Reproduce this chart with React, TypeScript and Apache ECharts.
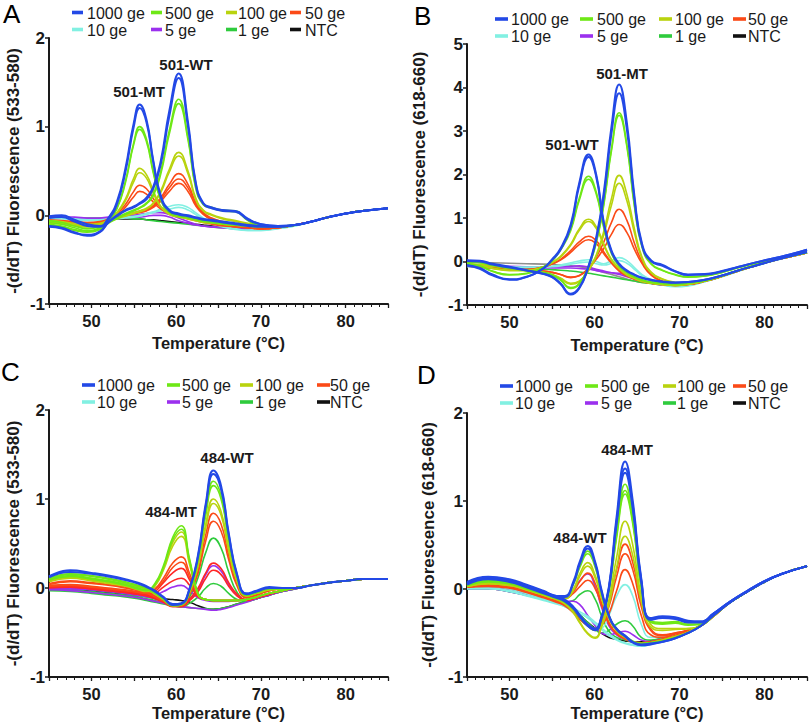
import React, { useEffect, useRef } from "react";
import * as echarts from "echarts";

// ---------- shared labels / colours ----------
const concLabels = ["1000 ge", "500 ge", "100 ge", "50 ge", "10 ge", "5 ge", "1 ge", "NTC"];
const concColors = ["#2349e6", "#6ee816", "#b9d30e", "#fb4a17", "#82f0e2", "#9b30ee", "#2fcb3d", "#111111"];
const colorsB = ["#2349e6", "#6ee816", "#b9d30e", "#fb4a17", "#82f0e2", "#9b30ee", "#2fcb3d", "#8f8f8f"];
const colorsC = ["#2349e6", "#6ee816", "#b9d30e", "#fb4a17", "#ff2626", "#9b30ee", "#2fcb3d", "#111111"];
const panelLetters = ["A", "B", "C", "D"];
const channels = ["533-580", "618-660", "533-580", "618-660"];
const yMaxes = [2, 5, 2, 2];
const xTitle = "Temperature (°C)";
const peakNames = [["501-MT", "501-WT"], ["501-WT", "501-MT"], ["484-MT", "484-WT"], ["484-WT", "484-MT"]];

// ---------- Panel A (533-580, 501) ----------
const tA = [45,46.5,48,49.5,51,52,53,54,55,55.7,56.5,57.3,58.2,59.2,60.3,61.4,62.3,63.2,64.2,65.5,67,68.5,70,72,74,76,78,80,82,85];
const A_1000 = [
  [-0.01,0,-0.05,-0.1,-0.12,-0.03,0.15,0.52,1.04,1.25,1.08,0.62,0.22,0.06,0.02,0,-0.02,-0.04,-0.05,-0.07,-0.09,-0.11,-0.12,-0.13,-0.11,-0.07,-0.02,0.02,0.05,0.08],
  [-0.03,-0.02,-0.07,-0.12,-0.13,-0.05,0.12,0.48,1.0,1.21,1.05,0.6,0.2,0.05,0.01,-0.01,-0.03,-0.05,-0.06,-0.08,-0.1,-0.12,-0.13,-0.13,-0.11,-0.07,-0.02,0.02,0.05,0.08],
  [-0.12,-0.14,-0.19,-0.23,-0.19,-0.08,0,0.06,0.1,0.14,0.2,0.32,0.62,1.18,1.6,1.05,0.38,0.14,0.09,0.06,0.05,-0.04,-0.1,-0.12,-0.11,-0.07,-0.02,0.02,0.05,0.08],
  [-0.13,-0.15,-0.2,-0.22,-0.18,-0.08,-0.01,0.05,0.09,0.13,0.18,0.3,0.58,1.12,1.55,1.0,0.36,0.13,0.08,0.05,0.04,-0.05,-0.1,-0.12,-0.11,-0.07,-0.02,0.02,0.05,0.08],
];
const A_500 = [
  [-0.06,-0.08,-0.12,-0.15,-0.13,-0.06,0.08,0.38,0.82,1.0,0.86,0.5,0.18,0.04,0,-0.02,-0.04,-0.06,-0.07,-0.09,-0.11,-0.12,-0.13,-0.13,-0.11,-0.07,-0.02,0.02,0.05,0.08],
  [-0.08,-0.1,-0.14,-0.17,-0.14,-0.07,0.07,0.36,0.8,0.97,0.83,0.48,0.17,0.03,-0.01,-0.03,-0.05,-0.07,-0.08,-0.1,-0.11,-0.12,-0.13,-0.13,-0.11,-0.07,-0.02,0.02,0.05,0.08],
  [-0.1,-0.12,-0.16,-0.18,-0.15,-0.08,-0.03,0.02,0.06,0.09,0.14,0.24,0.5,0.96,1.31,0.88,0.33,0.13,0.09,0.06,0.05,-0.06,-0.11,-0.12,-0.11,-0.07,-0.02,0.02,0.05,0.08],
  [-0.11,-0.13,-0.17,-0.19,-0.16,-0.09,-0.04,0.01,0.05,0.08,0.13,0.22,0.47,0.92,1.26,0.85,0.31,0.12,0.08,0.05,0.04,-0.06,-0.11,-0.12,-0.11,-0.07,-0.02,0.02,0.05,0.08],
];
const A_100 = [
  [-0.06,-0.07,-0.09,-0.1,-0.09,-0.05,0.03,0.18,0.42,0.53,0.46,0.28,0.1,0.02,-0.01,-0.03,-0.05,-0.07,-0.08,-0.1,-0.11,-0.12,-0.13,-0.13,-0.11,-0.07,-0.02,0.02,0.05,0.08],
  [-0.07,-0.08,-0.1,-0.11,-0.1,-0.06,0.02,0.16,0.38,0.48,0.42,0.25,0.09,0.01,-0.02,-0.04,-0.06,-0.08,-0.09,-0.1,-0.11,-0.12,-0.13,-0.13,-0.11,-0.07,-0.02,0.02,0.05,0.08],
  [-0.08,-0.09,-0.11,-0.12,-0.1,-0.06,-0.03,0,0.03,0.05,0.08,0.14,0.28,0.52,0.71,0.5,0.2,0.06,0.01,-0.03,-0.06,-0.09,-0.12,-0.13,-0.11,-0.07,-0.02,0.02,0.05,0.08],
  [-0.09,-0.1,-0.12,-0.13,-0.11,-0.07,-0.04,-0.01,0.02,0.04,0.07,0.13,0.26,0.49,0.67,0.47,0.18,0.05,0,-0.04,-0.07,-0.1,-0.12,-0.13,-0.11,-0.07,-0.02,0.02,0.05,0.08],
];
const A_50 = [
  [-0.05,-0.06,-0.07,-0.08,-0.07,-0.04,0.02,0.12,0.27,0.34,0.3,0.19,0.09,0.03,0,-0.03,-0.05,-0.07,-0.09,-0.11,-0.13,-0.14,-0.15,-0.14,-0.11,-0.07,-0.02,0.02,0.05,0.08],
  [-0.06,-0.07,-0.08,-0.09,-0.08,-0.05,0,0.09,0.21,0.27,0.24,0.15,0.07,0.02,-0.01,-0.04,-0.06,-0.08,-0.1,-0.12,-0.13,-0.14,-0.15,-0.14,-0.11,-0.07,-0.02,0.02,0.05,0.08],
  [-0.06,-0.07,-0.08,-0.09,-0.08,-0.05,-0.02,0.01,0.03,0.05,0.07,0.11,0.2,0.35,0.47,0.35,0.15,0.03,-0.03,-0.07,-0.1,-0.13,-0.15,-0.14,-0.11,-0.07,-0.02,0.02,0.05,0.08],
  [-0.07,-0.08,-0.09,-0.1,-0.09,-0.06,-0.03,0,0.02,0.04,0.06,0.1,0.18,0.31,0.41,0.31,0.13,0.02,-0.04,-0.08,-0.11,-0.14,-0.15,-0.14,-0.11,-0.07,-0.02,0.02,0.05,0.08],
  [-0.07,-0.08,-0.09,-0.1,-0.09,-0.06,-0.03,0,0.02,0.03,0.05,0.09,0.16,0.27,0.36,0.27,0.11,0.01,-0.05,-0.09,-0.12,-0.14,-0.15,-0.14,-0.11,-0.07,-0.02,0.02,0.05,0.08],
];
const A_10 = [
  [-0.03,-0.03,-0.04,-0.05,-0.05,-0.04,-0.03,-0.02,-0.01,0,0.02,0.04,0.07,0.1,0.12,0.09,0.03,-0.03,-0.08,-0.12,-0.15,-0.17,-0.17,-0.15,-0.12,-0.07,-0.02,0.02,0.05,0.08],
  [-0.04,-0.04,-0.05,-0.06,-0.06,-0.05,-0.04,-0.03,-0.02,-0.01,0.01,0.03,0.05,0.07,0.09,0.06,0.01,-0.04,-0.09,-0.13,-0.16,-0.17,-0.17,-0.15,-0.12,-0.07,-0.02,0.02,0.05,0.08],
];
const A_5 = [
  [-0.02,-0.02,-0.02,-0.03,-0.03,-0.02,-0.02,-0.01,0,0.01,0.02,0.03,0.03,0.01,-0.03,-0.07,-0.1,-0.12,-0.13,-0.14,-0.15,-0.15,-0.14,-0.13,-0.11,-0.07,-0.02,0.02,0.05,0.08],
  [-0.03,-0.03,-0.03,-0.04,-0.04,-0.04,-0.03,-0.03,-0.02,-0.02,-0.01,0,0,-0.02,-0.06,-0.09,-0.11,-0.12,-0.13,-0.14,-0.15,-0.15,-0.14,-0.13,-0.11,-0.07,-0.02,0.02,0.05,0.08],
];
const A_1 = [
  [-0.02,-0.02,-0.03,-0.03,-0.03,-0.03,-0.03,-0.03,-0.04,-0.04,-0.05,-0.06,-0.07,-0.08,-0.09,-0.1,-0.11,-0.12,-0.13,-0.14,-0.14,-0.14,-0.14,-0.13,-0.11,-0.07,-0.02,0.02,0.05,0.08],
];
const A_NTC = [
  [-0.03,-0.03,-0.03,-0.04,-0.04,-0.04,-0.04,-0.04,-0.04,-0.04,-0.05,-0.05,-0.06,-0.07,-0.08,-0.09,-0.1,-0.11,-0.12,-0.13,-0.13,-0.13,-0.13,-0.13,-0.11,-0.07,-0.02,0.02,0.05,0.08],
];

// ---------- Panel B (618-660, 501) ----------
const tB = [45,46.5,48,50,52,54,55,56,57.2,58.2,59.3,60.2,61.1,62,62.9,63.8,64.7,65.6,66.7,68,69.5,71,73,75,77,79,81,83,85];
const B_1000 = [
  [0.03,0.02,-0.05,-0.12,-0.2,-0.28,-0.35,-0.5,-0.74,-0.6,-0.1,0.55,1.6,3.1,4.07,3.2,1.5,0.4,0.02,-0.08,-0.22,-0.3,-0.29,-0.22,-0.12,-0.02,0.07,0.16,0.27],
  [0.01,0,-0.07,-0.14,-0.21,-0.29,-0.36,-0.52,-0.76,-0.62,-0.12,0.5,1.5,2.95,3.87,3.05,1.42,0.36,0,-0.1,-0.23,-0.31,-0.3,-0.23,-0.12,-0.02,0.07,0.16,0.27],
  [-0.08,-0.15,-0.3,-0.41,-0.35,-0.15,0.05,0.3,0.85,1.8,2.46,2.0,0.9,0.25,-0.05,-0.2,-0.3,-0.37,-0.42,-0.46,-0.48,-0.47,-0.42,-0.32,-0.2,-0.09,0.02,0.12,0.22],
  [-0.1,-0.17,-0.32,-0.42,-0.36,-0.16,0.03,0.27,0.8,1.74,2.4,1.95,0.86,0.22,-0.07,-0.22,-0.31,-0.38,-0.43,-0.47,-0.49,-0.47,-0.42,-0.32,-0.2,-0.09,0.02,0.12,0.22],
];
const B_500 = [
  [0,-0.02,-0.08,-0.15,-0.2,-0.25,-0.3,-0.42,-0.6,-0.5,-0.1,0.45,1.35,2.6,3.42,2.7,1.3,0.35,-0.05,-0.2,-0.3,-0.35,-0.33,-0.25,-0.14,-0.04,0.05,0.14,0.24],
  [-0.01,-0.03,-0.09,-0.16,-0.21,-0.26,-0.31,-0.43,-0.62,-0.52,-0.12,0.42,1.3,2.55,3.36,2.65,1.26,0.32,-0.07,-0.21,-0.31,-0.36,-0.33,-0.25,-0.14,-0.04,0.05,0.14,0.24],
  [-0.05,-0.1,-0.22,-0.3,-0.27,-0.12,0.02,0.28,0.75,1.45,1.96,1.6,0.8,0.2,-0.1,-0.25,-0.35,-0.42,-0.47,-0.5,-0.52,-0.5,-0.44,-0.33,-0.2,-0.08,0.03,0.12,0.21],
  [-0.06,-0.11,-0.23,-0.31,-0.28,-0.13,0.01,0.26,0.71,1.4,1.89,1.55,0.77,0.18,-0.11,-0.26,-0.36,-0.43,-0.48,-0.51,-0.53,-0.5,-0.44,-0.33,-0.2,-0.08,0.03,0.12,0.21],
];
const B_100 = [
  [-0.05,-0.07,-0.1,-0.15,-0.2,-0.25,-0.3,-0.38,-0.5,-0.45,-0.2,0.15,0.7,1.45,1.98,1.55,0.75,0.1,-0.25,-0.4,-0.48,-0.5,-0.44,-0.33,-0.2,-0.08,0.03,0.12,0.21],
  [-0.06,-0.08,-0.11,-0.16,-0.21,-0.26,-0.31,-0.39,-0.52,-0.46,-0.21,0.12,0.62,1.3,1.8,1.4,0.66,0.06,-0.27,-0.41,-0.49,-0.5,-0.44,-0.33,-0.2,-0.08,0.03,0.12,0.21],
  [-0.05,-0.08,-0.15,-0.2,-0.2,-0.12,-0.02,0.12,0.4,0.75,0.97,0.8,0.4,0.05,-0.15,-0.3,-0.38,-0.45,-0.5,-0.53,-0.55,-0.52,-0.45,-0.34,-0.21,-0.09,0.02,0.11,0.2],
  [-0.06,-0.09,-0.16,-0.21,-0.21,-0.13,-0.03,0.1,0.37,0.71,0.92,0.76,0.37,0.03,-0.17,-0.31,-0.39,-0.46,-0.5,-0.53,-0.55,-0.52,-0.45,-0.34,-0.21,-0.09,0.02,0.11,0.2],
];
const B_50 = [
  [-0.08,-0.1,-0.13,-0.17,-0.2,-0.22,-0.25,-0.3,-0.37,-0.33,-0.15,0.1,0.45,0.9,1.2,0.95,0.42,0,-0.3,-0.45,-0.52,-0.52,-0.45,-0.34,-0.21,-0.09,0.02,0.11,0.2],
  [-0.09,-0.11,-0.14,-0.18,-0.2,-0.22,-0.25,-0.3,-0.36,-0.32,-0.16,0.05,0.3,0.63,0.85,0.67,0.28,-0.05,-0.32,-0.46,-0.53,-0.52,-0.45,-0.34,-0.21,-0.09,0.02,0.11,0.2],
  [-0.1,-0.12,-0.15,-0.18,-0.18,-0.12,-0.05,0.05,0.25,0.45,0.58,0.48,0.22,-0.02,-0.2,-0.32,-0.4,-0.45,-0.5,-0.53,-0.55,-0.53,-0.45,-0.34,-0.21,-0.09,0.02,0.11,0.2],
  [-0.11,-0.13,-0.16,-0.19,-0.19,-0.13,-0.06,0.03,0.21,0.39,0.5,0.41,0.18,-0.04,-0.22,-0.33,-0.41,-0.46,-0.5,-0.53,-0.55,-0.53,-0.45,-0.34,-0.21,-0.09,0.02,0.11,0.2],
];
const B_10 = [
  [-0.1,-0.11,-0.12,-0.13,-0.13,-0.12,-0.11,-0.08,-0.03,0.01,0.04,0,-0.05,0.02,0.09,0.02,-0.14,-0.3,-0.42,-0.52,-0.57,-0.55,-0.46,-0.35,-0.22,-0.1,0.01,0.11,0.2],
  [-0.12,-0.13,-0.14,-0.14,-0.14,-0.13,-0.12,-0.1,-0.06,-0.03,-0.01,-0.05,-0.08,-0.04,0.02,-0.04,-0.18,-0.33,-0.45,-0.54,-0.58,-0.56,-0.46,-0.35,-0.22,-0.1,0.01,0.11,0.2],
];
const B_5 = [
  [-0.08,-0.09,-0.1,-0.11,-0.12,-0.13,-0.13,-0.12,-0.11,-0.1,-0.13,-0.18,-0.22,-0.26,-0.3,-0.35,-0.4,-0.45,-0.5,-0.53,-0.55,-0.53,-0.45,-0.34,-0.21,-0.09,0.02,0.11,0.2],
  [-0.1,-0.11,-0.12,-0.13,-0.14,-0.15,-0.15,-0.15,-0.15,-0.16,-0.18,-0.21,-0.24,-0.26,-0.27,-0.32,-0.38,-0.44,-0.5,-0.54,-0.56,-0.54,-0.46,-0.34,-0.21,-0.09,0.02,0.11,0.2],
];
const B_1 = [
  [-0.1,-0.12,-0.14,-0.16,-0.17,-0.18,-0.19,-0.2,-0.22,-0.24,-0.27,-0.3,-0.33,-0.36,-0.39,-0.42,-0.45,-0.48,-0.51,-0.54,-0.55,-0.53,-0.45,-0.34,-0.21,-0.09,0.02,0.11,0.2],
];
const B_NTC = [
  [-0.02,-0.02,-0.03,-0.04,-0.05,-0.06,-0.07,-0.08,-0.1,-0.12,-0.15,-0.2,-0.25,-0.3,-0.35,-0.4,-0.45,-0.48,-0.5,-0.52,-0.53,-0.5,-0.43,-0.32,-0.2,-0.08,0.03,0.12,0.2],
];

// ---------- Panel C (533-580, 484) ----------
const tC = [45,47.5,50,52,54,55.5,56.5,57.5,58.5,59.6,60.6,61.6,62.6,63.5,64.4,65.3,66.2,67.2,68.3,69.5,71,72.5,74,76,78,80,82,85];
const C_1000 = [
  [0.13,0.2,0.17,0.14,0.1,0.06,0.02,-0.03,-0.1,-0.18,-0.17,0,0.38,0.95,1.32,1.15,0.62,0.15,-0.06,-0.03,0.01,0,0,0.03,0.06,0.08,0.1,0.1],
  [0.12,0.18,0.16,0.13,0.09,0.05,0.01,-0.04,-0.11,-0.19,-0.18,-0.01,0.36,0.92,1.28,1.11,0.6,0.14,-0.07,-0.04,0,0,0,0.03,0.06,0.08,0.1,0.1],
];
const C_500 = [
  [0.1,0.14,0.11,0.08,0.04,0,-0.02,0.05,0.25,0.57,0.7,0.32,-0.06,-0.13,-0.14,-0.14,-0.14,-0.14,-0.13,-0.1,-0.06,-0.03,0,0.03,0.06,0.08,0.1,0.1],
  [0.09,0.13,0.1,0.07,0.03,-0.01,-0.03,0.04,0.23,0.54,0.66,0.3,-0.07,-0.13,-0.14,-0.14,-0.14,-0.14,-0.13,-0.1,-0.06,-0.03,0,0.03,0.06,0.08,0.1,0.1],
  [0.11,0.16,0.14,0.11,0.07,0.03,0,-0.05,-0.12,-0.19,-0.18,-0.02,0.34,0.86,1.2,1.04,0.55,0.12,-0.08,-0.05,-0.01,-0.01,0,0.03,0.06,0.08,0.1,0.1],
  [0.1,0.15,0.13,0.1,0.06,0.02,-0.01,-0.06,-0.13,-0.2,-0.19,-0.03,0.32,0.82,1.15,1.0,0.53,0.11,-0.08,-0.05,-0.01,-0.01,0,0.03,0.06,0.08,0.1,0.1],
];
const C_100 = [
  [0.08,0.12,0.09,0.06,0.03,-0.01,-0.03,0.03,0.22,0.51,0.63,0.29,-0.07,-0.13,-0.14,-0.14,-0.14,-0.14,-0.13,-0.1,-0.06,-0.03,0,0.03,0.06,0.08,0.1,0.1],
  [0.07,0.11,0.08,0.05,0.02,-0.02,-0.04,0.02,0.2,0.47,0.58,0.26,-0.08,-0.13,-0.14,-0.14,-0.14,-0.14,-0.13,-0.1,-0.06,-0.03,0,0.03,0.06,0.08,0.1,0.1],
  [0.09,0.13,0.11,0.08,0.05,0.02,-0.01,-0.06,-0.12,-0.19,-0.18,-0.04,0.27,0.72,1.0,0.86,0.45,0.08,-0.09,-0.06,-0.02,-0.01,0,0.03,0.06,0.08,0.1,0.1],
  [0.08,0.12,0.1,0.07,0.04,0.01,-0.02,-0.07,-0.13,-0.2,-0.19,-0.05,0.25,0.68,0.95,0.82,0.42,0.07,-0.09,-0.06,-0.02,-0.01,0,0.03,0.06,0.08,0.1,0.1],
];
const C_50 = [
  [0.03,0.04,0.02,0,-0.02,-0.04,-0.05,-0.01,0.11,0.28,0.35,0.16,-0.08,-0.13,-0.14,-0.14,-0.14,-0.14,-0.13,-0.1,-0.06,-0.03,0,0.03,0.06,0.08,0.1,0.1],
  [0.02,0.03,0.01,-0.01,-0.03,-0.05,-0.06,-0.02,0.08,0.23,0.29,0.12,-0.09,-0.13,-0.14,-0.14,-0.14,-0.14,-0.13,-0.1,-0.06,-0.03,0,0.03,0.06,0.08,0.1,0.1],
  [0.05,0.08,0.06,0.04,0.01,-0.02,-0.05,-0.09,-0.14,-0.2,-0.19,-0.06,0.2,0.6,0.84,0.72,0.37,0.04,-0.1,-0.07,-0.03,-0.01,0,0.03,0.06,0.08,0.1,0.1],
  [0.04,0.07,0.05,0.03,0,-0.03,-0.06,-0.1,-0.15,-0.2,-0.2,-0.07,0.17,0.53,0.75,0.64,0.32,0.02,-0.11,-0.08,-0.03,-0.01,0,0.03,0.06,0.08,0.1,0.1],
];
const C_10 = [
  [0.02,0.02,0,-0.02,-0.04,-0.06,-0.08,-0.11,-0.15,-0.2,-0.2,-0.12,0,0.17,0.28,0.22,0.06,-0.07,-0.13,-0.11,-0.07,-0.03,0,0.03,0.06,0.08,0.1,0.1],
  [0.01,0.01,-0.01,-0.03,-0.05,-0.07,-0.09,-0.12,-0.16,-0.21,-0.21,-0.14,-0.04,0.11,0.2,0.15,0.02,-0.09,-0.14,-0.11,-0.07,-0.03,0,0.03,0.06,0.08,0.1,0.1],
  [0.01,0.02,0,-0.02,-0.04,-0.06,-0.07,-0.04,0.06,0.17,0.22,0.09,-0.08,-0.13,-0.14,-0.14,-0.14,-0.14,-0.13,-0.1,-0.06,-0.03,0,0.03,0.06,0.08,0.1,0.1],
  [0,0.01,-0.01,-0.03,-0.05,-0.07,-0.08,-0.06,0.01,0.08,0.11,0.03,-0.1,-0.13,-0.14,-0.14,-0.14,-0.14,-0.13,-0.1,-0.06,-0.03,0,0.03,0.06,0.08,0.1,0.1],
];
const C_5 = [
  [0,0,-0.02,-0.04,-0.06,-0.08,-0.1,-0.12,-0.16,-0.2,-0.2,-0.13,-0.02,0.15,0.25,0.19,0.04,-0.08,-0.14,-0.11,-0.07,-0.03,0,0.03,0.06,0.08,0.1,0.1],
  [-0.02,-0.03,-0.05,-0.07,-0.09,-0.11,-0.13,-0.15,-0.17,-0.2,-0.21,-0.22,-0.23,-0.24,-0.25,-0.24,-0.22,-0.19,-0.16,-0.12,-0.08,-0.04,-0.01,0.03,0.06,0.08,0.1,0.1],
  [-0.01,-0.01,-0.02,-0.04,-0.06,-0.08,-0.09,-0.08,-0.04,0.01,0.03,-0.03,-0.11,-0.14,-0.15,-0.15,-0.15,-0.14,-0.13,-0.1,-0.06,-0.03,0,0.03,0.06,0.08,0.1,0.1],
];
const C_1 = [
  [0,0,-0.02,-0.04,-0.06,-0.08,-0.1,-0.12,-0.16,-0.2,-0.2,-0.1,0.12,0.4,0.56,0.45,0.18,-0.05,-0.13,-0.11,-0.07,-0.03,0,0.03,0.06,0.08,0.1,0.1],
  [-0.01,-0.02,-0.04,-0.06,-0.08,-0.1,-0.12,-0.14,-0.17,-0.2,-0.21,-0.17,-0.1,0,0.05,0.02,-0.06,-0.13,-0.15,-0.12,-0.07,-0.03,0,0.03,0.06,0.08,0.1,0.1],
  [-0.03,-0.04,-0.06,-0.08,-0.1,-0.12,-0.14,-0.16,-0.18,-0.2,-0.21,-0.22,-0.23,-0.23,-0.24,-0.23,-0.21,-0.18,-0.15,-0.12,-0.08,-0.04,-0.01,0.03,0.06,0.08,0.1,0.1],
];
const C_NTC = [
  [-0.01,-0.02,-0.03,-0.05,-0.07,-0.08,-0.09,-0.1,-0.12,-0.13,-0.14,-0.16,-0.2,-0.23,-0.24,-0.23,-0.21,-0.18,-0.15,-0.12,-0.08,-0.04,-0.01,0.03,0.06,0.08,0.1,0.1],
];

// ---------- Panel D (618-660, 484) ----------
const tD = [45,47.5,50,52,54,55.5,56.5,57.5,58.3,59.2,60.1,60.8,61.7,62.6,63.6,64.5,65.5,66.6,68,69.5,71,72.5,74,76,78,80,82,85];
const D_1000 = [
  [0.07,0.13,0.1,0.04,-0.03,-0.08,-0.12,-0.2,-0.3,-0.4,-0.45,-0.32,0.03,0.82,1.45,1.0,0.12,-0.33,-0.31,-0.32,-0.36,-0.37,-0.28,-0.14,-0.02,0.09,0.17,0.26],
  [0.06,0.12,0.09,0.03,-0.04,-0.09,-0.13,-0.21,-0.31,-0.41,-0.46,-0.33,0.01,0.77,1.37,0.95,0.1,-0.34,-0.32,-0.33,-0.37,-0.37,-0.28,-0.14,-0.02,0.09,0.17,0.26],
  [0.05,0.11,0.08,0.02,-0.05,-0.1,-0.14,-0.22,-0.32,-0.42,-0.47,-0.34,0,0.74,1.32,0.91,0.08,-0.35,-0.33,-0.34,-0.38,-0.38,-0.28,-0.14,-0.02,0.09,0.17,0.26],
  [0.08,0.14,0.11,0.05,-0.02,-0.08,-0.08,0.08,0.32,0.49,0.3,0,-0.3,-0.45,-0.53,-0.6,-0.63,-0.62,-0.6,-0.56,-0.5,-0.42,-0.3,-0.15,-0.03,0.08,0.17,0.26],
  [0.07,0.13,0.1,0.04,-0.03,-0.09,-0.09,0.06,0.29,0.46,0.28,-0.02,-0.31,-0.46,-0.54,-0.61,-0.64,-0.63,-0.6,-0.56,-0.5,-0.42,-0.3,-0.15,-0.03,0.08,0.17,0.26],
];
const D_500 = [
  [0.05,0.1,0.08,0.02,-0.04,-0.09,-0.13,-0.21,-0.31,-0.4,-0.45,-0.33,0,0.66,1.19,0.82,0.05,-0.36,-0.38,-0.37,-0.4,-0.4,-0.3,-0.15,-0.03,0.08,0.17,0.26],
  [0.04,0.09,0.07,0.01,-0.05,-0.1,-0.14,-0.22,-0.32,-0.41,-0.46,-0.34,-0.02,0.61,1.12,0.77,0.03,-0.37,-0.39,-0.38,-0.4,-0.4,-0.3,-0.15,-0.03,0.08,0.17,0.26],
  [0.04,0.08,0.06,0,-0.06,-0.11,-0.15,-0.23,-0.33,-0.42,-0.47,-0.35,-0.03,0.58,1.08,0.74,0.01,-0.38,-0.4,-0.39,-0.41,-0.4,-0.3,-0.15,-0.03,0.08,0.17,0.26],
  [0.06,0.11,0.09,0.04,-0.03,-0.08,-0.08,0.06,0.28,0.43,0.26,-0.02,-0.3,-0.45,-0.53,-0.59,-0.62,-0.61,-0.59,-0.55,-0.5,-0.42,-0.3,-0.15,-0.03,0.08,0.17,0.26],
  [0.05,0.1,0.08,0.03,-0.04,-0.09,-0.09,0.05,0.25,0.4,0.24,-0.04,-0.31,-0.46,-0.54,-0.6,-0.62,-0.61,-0.59,-0.55,-0.5,-0.42,-0.3,-0.15,-0.03,0.08,0.17,0.26],
];
const D_100 = [
  [0.04,0.07,0.05,0,-0.06,-0.11,-0.16,-0.26,-0.38,-0.5,-0.55,-0.42,-0.12,0.36,0.77,0.5,-0.08,-0.4,-0.45,-0.45,-0.45,-0.42,-0.31,-0.15,-0.03,0.08,0.17,0.26],
  [0.03,0.06,0.04,-0.01,-0.07,-0.12,-0.17,-0.27,-0.39,-0.51,-0.56,-0.44,-0.18,0.24,0.6,0.38,-0.14,-0.43,-0.47,-0.46,-0.45,-0.42,-0.31,-0.15,-0.03,0.08,0.17,0.26],
  [0.04,0.07,0.05,0,-0.06,-0.1,-0.1,0,0.18,0.3,0.15,-0.08,-0.33,-0.47,-0.55,-0.6,-0.62,-0.61,-0.58,-0.54,-0.49,-0.41,-0.3,-0.15,-0.03,0.08,0.17,0.26],
  [0.03,0.06,0.04,-0.01,-0.07,-0.11,-0.11,-0.02,0.15,0.26,0.12,-0.1,-0.34,-0.48,-0.55,-0.6,-0.62,-0.61,-0.58,-0.54,-0.49,-0.41,-0.3,-0.15,-0.03,0.08,0.17,0.26],
];
const D_50 = [
  [0.03,0.05,0.03,-0.02,-0.08,-0.13,-0.17,-0.25,-0.33,-0.4,-0.45,-0.38,-0.15,0.22,0.51,0.3,-0.15,-0.45,-0.52,-0.5,-0.47,-0.42,-0.31,-0.15,-0.03,0.08,0.17,0.26],
  [0.02,0.04,0.02,-0.03,-0.09,-0.14,-0.18,-0.26,-0.34,-0.41,-0.46,-0.4,-0.2,0.14,0.4,0.22,-0.2,-0.47,-0.53,-0.5,-0.47,-0.42,-0.31,-0.15,-0.03,0.08,0.17,0.26],
  [0.02,0.03,0.01,-0.04,-0.1,-0.15,-0.19,-0.27,-0.35,-0.42,-0.47,-0.42,-0.28,-0.02,0.22,0.06,-0.3,-0.52,-0.55,-0.51,-0.47,-0.42,-0.31,-0.15,-0.03,0.08,0.17,0.26],
  [0.03,0.05,0.03,-0.02,-0.07,-0.1,-0.1,-0.03,0.09,0.18,0.06,-0.15,-0.38,-0.5,-0.56,-0.6,-0.61,-0.6,-0.57,-0.53,-0.48,-0.41,-0.3,-0.15,-0.03,0.08,0.17,0.26],
  [0.02,0.04,0.02,-0.03,-0.08,-0.11,-0.11,-0.05,0.03,0.1,0,-0.18,-0.4,-0.51,-0.57,-0.6,-0.61,-0.6,-0.57,-0.53,-0.48,-0.41,-0.3,-0.15,-0.03,0.08,0.17,0.26],
];
const D_10 = [
  [0.02,0.03,0,-0.05,-0.11,-0.16,-0.2,-0.26,-0.33,-0.4,-0.46,-0.45,-0.3,-0.08,0.05,-0.08,-0.4,-0.55,-0.55,-0.52,-0.47,-0.41,-0.3,-0.15,-0.03,0.08,0.17,0.26],
  [0,0,-0.03,-0.08,-0.13,-0.17,-0.2,-0.24,-0.28,-0.33,-0.4,-0.46,-0.53,-0.58,-0.62,-0.64,-0.65,-0.63,-0.6,-0.56,-0.5,-0.42,-0.3,-0.15,-0.03,0.08,0.17,0.26],
  [0.01,0.01,-0.02,-0.07,-0.12,-0.16,-0.19,-0.22,-0.26,-0.31,-0.38,-0.44,-0.51,-0.57,-0.61,-0.63,-0.64,-0.62,-0.59,-0.55,-0.5,-0.42,-0.3,-0.15,-0.03,0.08,0.17,0.26],
];
const D_5 = [
  [0.01,0.02,0,-0.05,-0.1,-0.12,-0.1,-0.02,0.1,0.17,0.02,-0.2,-0.42,-0.52,-0.57,-0.6,-0.61,-0.6,-0.57,-0.53,-0.48,-0.41,-0.3,-0.15,-0.03,0.08,0.17,0.26],
  [0,0,-0.03,-0.07,-0.11,-0.13,-0.14,-0.14,-0.18,-0.3,-0.42,-0.5,-0.52,-0.5,-0.48,-0.52,-0.58,-0.6,-0.58,-0.54,-0.49,-0.41,-0.3,-0.15,-0.03,0.08,0.17,0.26],
];
const D_1 = [
  [0.02,0.04,0.02,-0.03,-0.09,-0.13,-0.15,-0.13,-0.06,-0.02,-0.12,-0.3,-0.48,-0.55,-0.58,-0.6,-0.61,-0.6,-0.57,-0.53,-0.48,-0.41,-0.3,-0.15,-0.03,0.08,0.17,0.26],
  [0.01,0.02,0,-0.04,-0.1,-0.15,-0.19,-0.24,-0.3,-0.38,-0.46,-0.5,-0.47,-0.4,-0.36,-0.42,-0.55,-0.58,-0.56,-0.53,-0.48,-0.41,-0.3,-0.15,-0.03,0.08,0.17,0.26],
];
const D_NTC = [
  [0,0,-0.03,-0.07,-0.12,-0.16,-0.19,-0.24,-0.3,-0.38,-0.45,-0.5,-0.55,-0.57,-0.59,-0.6,-0.6,-0.59,-0.56,-0.52,-0.47,-0.41,-0.3,-0.15,-0.03,0.08,0.17,0.26],
];

const FONT = '"Liberation Sans", Arial, Helvetica, sans-serif';
const INK = "#1a1a1a";

export default function App() {
  const ref = useRef<HTMLDivElement>(null);

  useEffect(() => {
    if (!ref.current) return;
    const chart = echarts.init(ref.current, undefined, { renderer: "svg" });

    const panels = [
      { t: tA, groups: [A_1000, A_500, A_100, A_50, A_10, A_5, A_1, A_NTC], colors: concColors },
      { t: tB, groups: [B_1000, B_500, B_100, B_50, B_10, B_5, B_1, B_NTC], colors: colorsB },
      { t: tC, groups: [C_1000, C_500, C_100, C_50, C_10, C_5, C_1, C_NTC], colors: colorsC },
      { t: tD, groups: [D_1000, D_500, D_100, D_50, D_10, D_5, D_1, D_NTC], colors: concColors },
    ];

    const grids = [
      { left: 49, top: 38, width: 339, height: 266 },
      { left: 467, top: 44, width: 342, height: 261 },
      { left: 49, top: 410, width: 339, height: 267 },
      { left: 467, top: 413, width: 342, height: 264 },
    ];
    const yNameGaps = [27, 39, 27, 30];
    const xNameGaps = [30, 31, 27, 27];

    const xAxes = grids.map((_, i) => ({
      type: "value",
      gridIndex: i,
      min: 45,
      max: 85,
      interval: 5,
      name: xTitle,
      nameLocation: "middle",
      nameGap: xNameGaps[i],
      nameTextStyle: { fontSize: 16.5, fontWeight: "bold", color: INK, fontFamily: FONT },
      axisLine: { show: true, onZero: false, lineStyle: { color: INK, width: 2 } },
      axisTick: { show: true, length: 4, lineStyle: { color: INK, width: 1.3 } },
      minorTick: { show: true, splitNumber: 5, length: 3, lineStyle: { color: INK, width: 1 } },
      axisLabel: {
        fontSize: 16.5,
        fontWeight: "bold",
        color: INK,
        fontFamily: FONT,
        margin: 8,
        formatter: (v: number) => (v % 10 === 0 ? String(v) : ""),
      },
      splitLine: { show: false },
    }));

    const yAxes = grids.map((_, i) => ({
      type: "value",
      gridIndex: i,
      min: -1,
      max: yMaxes[i],
      interval: 1,
      name: `-(d/dT) Fluorescence (${channels[i]})`,
      nameLocation: "middle",
      nameGap: yNameGaps[i],
      nameTextStyle: { fontSize: 17, fontWeight: "bold", color: INK, fontFamily: FONT },
      axisLine: { show: true, onZero: false, lineStyle: { color: INK, width: 2 } },
      axisTick: { show: true, length: 4, lineStyle: { color: INK, width: 1.5 } },
      axisLabel: { fontSize: 17, fontWeight: "bold", color: INK, fontFamily: FONT, margin: 4 },
      splitLine: { show: false },
    }));

    const series: any[] = [];
    panels.forEach((p, i) => {
      for (let g = p.groups.length - 1; g >= 0; g--) {
        p.groups[g].forEach((vals) => {
          series.push({
            type: "line",
            name: concLabels[g],
            xAxisIndex: i,
            yAxisIndex: i,
            data: p.t.map((x, k) => [x, vals[k]]),
            smooth: 0.5,
            showSymbol: false,
            symbol: "none",
            silent: true,
            lineStyle: { color: p.colors[g], width: g === 0 ? 2 : 1.6 },
          });
        });
      }
    });

    // legend layout per panel: marker x, text x for 4 columns; row y centres
    const legendLayout = [
      { mx: [72, 151, 226, 290], tx: [87, 165, 238, 305], ry: [12.5, 29.5], mw: 11 },
      { mx: [495, 580, 659, 733], tx: [511, 597, 675, 748], ry: [19, 36], mw: 13 },
      { mx: [82, 167, 240, 317], tx: [97, 182, 255, 330], ry: [385, 402], mw: 13 },
      { mx: [500, 585, 663, 733], tx: [515, 601, 677, 748], ry: [386, 403], mw: 13 },
    ];
    const letterPos = [
      [3, 14],
      [414, 16],
      [1, 372],
      [417, 375],
    ];
    const peakPos = [
      [[139, 91], [186, 64]],
      [[572, 144], [622, 73]],
      [[171, 511], [227, 457]],
      [[580, 537], [627, 449]],
    ];

    const graphics: any[] = [];
    legendLayout.forEach((L, i) => {
      concLabels.forEach((lab, j) => {
        const row = Math.floor(j / 4);
        const col = j % 4;
        const y = L.ry[row];
        graphics.push({
          type: "rect",
          shape: { x: L.mx[col], y: y - 1.8, width: L.mw, height: 3.6 },
          style: { fill: concColors[j] },
          silent: true,
        });
        graphics.push({
          type: "text",
          style: {
            text: lab,
            x: L.tx[col],
            y: y + 0.5,
            font: `16px ${FONT}`,
            fill: INK,
            align: "left",
            verticalAlign: "middle",
            textAlign: "left",
            textVerticalAlign: "middle",
          },
          silent: true,
        });
      });
    });
    panelLetters.forEach((l, i) => {
      graphics.push({
        type: "text",
        style: {
          text: l,
          x: letterPos[i][0],
          y: letterPos[i][1],
          font: `26px ${FONT}`,
          fill: "#000",
          align: "left",
          verticalAlign: "middle",
          textAlign: "left",
          textVerticalAlign: "middle",
        },
        silent: true,
      });
    });
    peakNames.forEach((names, i) => {
      names.forEach((n, k) => {
        graphics.push({
          type: "text",
          style: {
            text: n,
            x: peakPos[i][k][0],
            y: peakPos[i][k][1],
            font: `bold 15px ${FONT}`,
            fill: INK,
            align: "center",
            verticalAlign: "middle",
            textAlign: "center",
            textVerticalAlign: "middle",
          },
          silent: true,
        });
      });
    });

    chart.setOption({
      animation: false,
      backgroundColor: "#ffffff",
      textStyle: { fontFamily: FONT },
      grid: grids,
      xAxis: xAxes,
      yAxis: yAxes,
      series,
      graphic: graphics,
    });

    return () => {
      chart.dispose();
    };
  }, []);

  return (
    <div
      ref={ref}
      style={{ position: "fixed", left: 0, top: 0, width: 810, height: 722, background: "#fff" }}
    />
  );
}
